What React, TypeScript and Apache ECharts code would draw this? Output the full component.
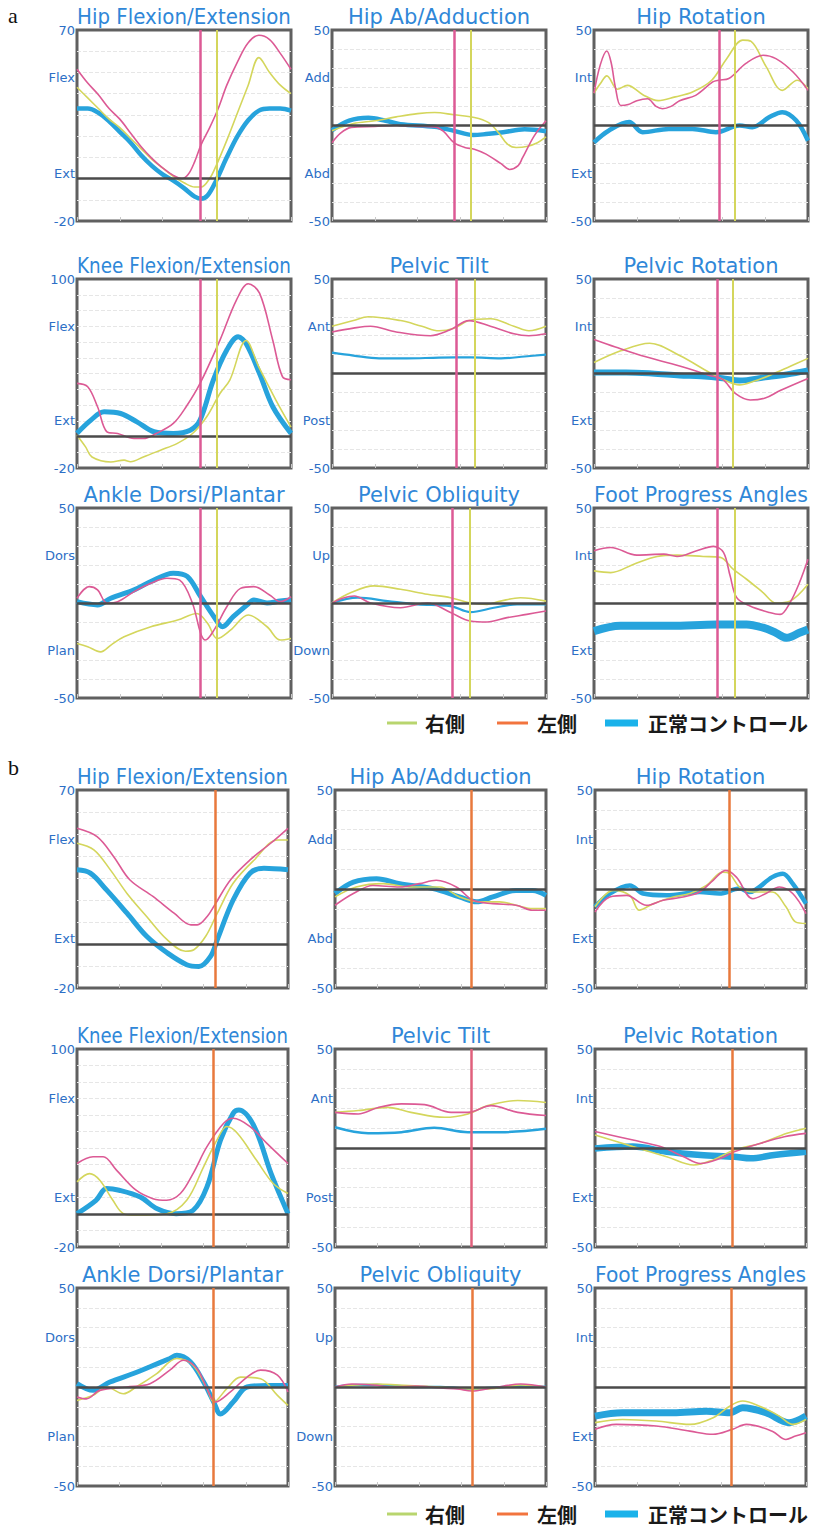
import React, { useEffect, useRef } from "react";
import * as echarts from "echarts";

type Pts = [number, number][];

// ================= Section a =================
// Hip Flexion/Extension
const a1Right: Pts = [[0,43],[5,38],[10,33],[15,28],[20,24],[25,19],[30,14],[35,9],[40,5],[45,1],[50,-2],[55,-4],[58,-4],[62,0],[65,6],[70,18],[75,31],[80,44],[85,57],[90,50],[95,44],[100,40]];
const a1Left: Pts = [[0,51.5],[5,45],[10,39.5],[15,33],[20,28],[25,21.5],[30,15],[35,9.5],[40,5],[45,1.5],[49,0],[52,2],[55,8],[58,16],[62,24],[66,33],[70,44],[75,55],[80,64],[85,67.5],[90,65.5],[95,59],[100,51.5]];
const a1Ctrl: Pts = [[0,33],[5,33],[10,31],[15,27],[20,22],[25,17],[30,11],[35,6],[40,2],[45,-1],[50,-4.5],[55,-8.5],[58,-9.5],[61,-8],[65,-1],[70,10],[75,20],[80,27.5],[85,32],[90,33],[95,33],[100,32]];
const a1Marks = [57.8, 65.4];
// Hip Ab/Adduction
const a2Right: Pts = [[0,-2.8],[10,1],[20,2.5],[30,4.5],[40,6.2],[48,6.8],[57,5.6],[66.5,4.2],[73,1.6],[78,-4],[82,-9.8],[86,-11.5],[91,-11],[96,-9],[100,-6]];
const a2Left: Pts = [[0,-9],[4,-4],[9,-1],[20,-0.5],[30,0],[40,-0.5],[48,-0.7],[52,-3],[57,-9],[62,-11.5],[66.5,-12.4],[72,-15],[79,-20],[83,-23],[87,-21],[89,-17],[94.5,-5.4],[100,2.5]];
const a2Ctrl: Pts = [[0,-2.5],[8,2.5],[17,4],[25,2.5],[32,0.7],[48,-0.7],[57,-2.8],[66,-5],[72,-4.5],[80,-3.5],[90,-2],[100,-3]];
const a2Marks = [56.9, 65];
// Hip Rotation
const a3Right: Pts = [[0,17],[3,22],[6,26],[11,19],[15.6,21],[23,16],[30,13],[38,15],[46,17.5],[55,23.7],[62,35],[69.5,44.7],[73.4,44],[80.5,30.7],[88,18.4],[95,23.7],[100,19.3]];
const a3Left: Pts = [[0,17],[3,32],[6,39],[8,33],[10,20],[12.5,10.5],[16,11],[20,13],[25,14],[29,10],[32,8.8],[36,10],[40,13],[47.5,15.8],[55.5,22.8],[58.3,23.7],[63,24.6],[71,32.5],[79,36.8],[85,35],[93,28],[100,18.4]];
const a3Ctrl: Pts = [[0,-8.8],[7,-2.6],[16.4,1.8],[22.7,-3.5],[35,-1.8],[46,-1.8],[57,-3.5],[68,0],[74,-0.9],[82,4.4],[88,7],[94.5,2.6],[100,-8]];
const a3Marks = [58.3, 66];
// Knee Flexion/Extension
const a4Right: Pts = [[0,0.8],[4,-6.6],[7,-13],[15.8,-16.2],[22,-15],[25,-16],[31,-13],[39,-8.7],[46.7,-4.5],[54,1.9],[60.6,12.5],[66.8,27.3],[71.4,35.8],[79,61],[85,44],[93,23],[100,6]];
const a4Left: Pts = [[0,33.7],[5,31.6],[9.6,18.9],[14,3],[19,1.9],[26.6,-1.3],[31,-1.3],[37,1.9],[45,8.3],[51,18.9],[57.5,33.7],[66.8,61.2],[74.5,86.6],[80,97],[85.3,91],[91.5,61],[96,38],[100,36]];
const a4Ctrl: Pts = [[0,2],[6.5,10.4],[12.7,15.7],[20.4,14.6],[28,9.3],[36,3],[45,1.9],[52.9,4],[57.5,10.4],[63.7,35.8],[70,54.9],[75.3,63.3],[79,59],[85.3,40],[91.5,18.9],[100,2]];
const a4Marks = [57.5, 65.2];
// Pelvic Tilt
const a5Right: Pts = [[0,25],[10,28],[17,30],[32,28],[42,25],[50,22.6],[57,24],[64,28],[74,29],[85,25],[92,22.6],[100,25]];
const a5Left: Pts = [[0,22],[10,24],[18,25],[30,22],[46,20],[55,23],[64,28],[74,25],[85,21],[92,20],[100,21]];
const a5Ctrl: Pts = [[0,11],[10,9.5],[22,8],[35,8],[50,8.4],[65,8.5],[79,8],[90,9],[100,10]];
const a5Marks = [58, 66.5];
// Pelvic Rotation
const a6Right: Pts = [[0,5.8],[12.5,12],[26,16],[40,9.5],[54,0.5],[60,-3],[68,-6],[75,-4],[82,-1],[92,4],[100,8]];
const a6Left: Pts = [[0,18],[10,14],[22,9.5],[40,4],[54,-1],[60,-3],[66,-10.5],[73,-14],[80,-13],[87,-9],[100,-2.6]];
const a6Ctrl: Pts = [[0,0.5],[15,0.5],[27,0],[40,-1],[50,-1.5],[60,-2.5],[68,-3.7],[80,-2],[90,-0.5],[100,1.6]];
const a6Marks = [57.7, 65];
// Ankle Dorsi/Plantar
const a7Right: Pts = [[0,-21.3],[5,-23],[11,-25.7],[16,-22],[22,-17.8],[34.5,-12.5],[47,-9],[56,-5.5],[61,-10.7],[65.5,-18.7],[71.7,-14.3],[80,-6.3],[88.8,-12.5],[95,-19.5],[100,-18.7]];
const a7Left: Pts = [[0,2.5],[5.7,8.6],[9.6,6.9],[14,0],[19,0.7],[26.7,6],[34.5,10.4],[42,13],[48,12],[53.9,0],[57.8,-16],[60,-19.5],[64,-14.3],[70,-2],[76.4,7.7],[82.6,8.6],[90,4.2],[95,0.7],[100,3.3]];
const a7Ctrl: Pts = [[0,0.7],[9.6,-1],[15.8,2.5],[26.7,6.9],[34.5,11.3],[45,15.7],[51.5,14],[57.8,3.3],[64,-7.2],[68,-12.5],[73,-7.2],[79.5,-1],[82.6,1.6],[88.8,0],[95,1],[100,1.6]];
const a7Marks = [57.8, 65.5];
// Pelvic Obliquity
const a8Right: Pts = [[0,0],[8.9,5.5],[19.7,9],[32,7.2],[44.6,4.6],[55.4,2.8],[64.7,0],[72.5,-0.7],[78.7,1],[88,2.8],[100,1]];
const a8Left: Pts = [[0,0],[5,2.5],[10.4,3.7],[18,0],[32,-2.5],[44.6,0],[55.4,-5],[64.7,-9.5],[72.5,-10],[81.8,-7.7],[91,-6],[100,-4.2]];
const a8Ctrl: Pts = [[0,0],[12,2.8],[26,1],[40,-0.7],[55.4,-1.6],[64.7,-4.8],[75.6,-2.5],[86.5,-0.7],[100,-0.7]];
const a8Marks = [56.2, 64.4];
// Foot Progress Angles
const a9Right: Pts = [[0,16.9],[7.8,16],[18.6,20.4],[29.5,24.5],[38.8,25.2],[51,24.5],[59,24],[65,17.8],[71.3,12.5],[79,5.5],[85,0],[91.5,1],[100,9.9]];
const a9Left: Pts = [[0,27.5],[7.8,29.2],[20,25.2],[32.6,25.7],[38.8,24.5],[48,27.5],[55.8,29.8],[60.5,26.6],[63.6,14.3],[66.7,2.8],[72.9,-1.6],[82,-5],[87,-6],[91.5,0],[96,10.7],[100,23]];
const a9Ctrl: Pts = [[0,-14.8],[12.4,-12],[35.7,-12],[57.4,-11.3],[71.3,-11.3],[79,-13],[85,-15.7],[90,-18.3],[96,-15.7],[100,-14]];
const a9Marks = [57.4, 65.9];

// ================= Section b =================
const b1Right: Pts = [[0,45.8],[8,42.8],[15.8,33.7],[23.7,23],[33,12.5],[42.7,2],[51.4,-3.3],[55.4,-2.6],[61,3.5],[66.5,14],[74,27.6],[84,38.2],[95,47.3],[100,47.3]];
const b1Left: Pts = [[0,52.6],[9.5,48.8],[17.4,39.7],[25,29.2],[36,21.6],[46,14],[54,8.7],[57,8.7],[61.7,12.5],[65.3,17.8],[72.8,29.2],[82,38.2],[91.8,45.8],[100,52.6]];
const b1Ctrl: Pts = [[0,33.7],[6.3,32.2],[14,24.6],[23.7,14],[33,3.5],[42.7,-4],[52,-9.4],[57.8,-10.2],[63.3,-5.6],[66.5,2],[74,20],[82,32.2],[88.6,34.4],[100,33.7]];
const b1Marks = [65.3];
const b2Right: Pts = [[0,-4],[10,1],[22.8,2.7],[35.4,1],[49.6,1],[59,-4],[68.5,-6.5],[78,-6.5],[85.8,-8.2],[93.7,-9.9],[100,-9.9]];
const b2Left: Pts = [[0,-8.2],[8.7,-2.3],[18,1.8],[30.7,1],[40,2.7],[48,4.4],[57.5,1],[65.4,-5.7],[74.8,-7.4],[85.8,-8.2],[93.7,-10.7],[100,-10.7]];
const b2Ctrl: Pts = [[0,-2.3],[8.7,3.5],[19.7,5.2],[30.7,2.7],[46.5,0.2],[59,-4],[67,-6.5],[74.8,-4],[85.8,-0.7],[93.7,-0.7],[100,-3.2]];
const b2Marks = [64.6];
const b3Right: Pts = [[0,-9],[8.7,-0.7],[16.5,-3.2],[21,-10.7],[27.6,-7.4],[37,-4],[45,-2.3],[52.8,1.8],[60.6,8.5],[63.8,7.7],[68.5,1],[74.8,-1.5],[84,-1.5],[90.5,-9],[95,-16.6],[100,-17.4]];
const b3Left: Pts = [[0,-11.6],[7,-4],[15,-3.2],[24.4,-8.2],[32.3,-5.7],[41.7,-4],[49.6,-1.5],[56,4.4],[62,9.4],[67,6],[74.8,-4.9],[81,-2.3],[87.4,1],[93.7,-2.3],[100,-12.4]];
const b3Ctrl: Pts = [[0,-9],[7,-2.3],[16.5,1.8],[22.8,-2.3],[33.9,-3.2],[49.6,-1.5],[59,-2.3],[68.5,0.2],[73,-1.5],[84,6],[89,7.7],[93.7,2.7],[100,-7.4]];
const b3Marks = [63.8];
const b4Right: Pts = [[0,19.5],[6,24.5],[10.8,20.5],[17,8.3],[22,0.2],[28,-0.8],[42.5,0.2],[52,8.3],[60,28.6],[66.3,44.8],[71,53],[76,48.9],[85,32.7],[93,18.5],[100,12.4]];
const b4Left: Pts = [[0,30.6],[7.6,34.7],[12.4,34.7],[18.7,26.6],[28,14.4],[36,9.3],[42.5,8.3],[49,12.4],[55,24.5],[61.6,40.8],[69.5,55],[74,58],[82,53],[90,42.8],[100,30.6]];
const b4Ctrl: Pts = [[0,0.2],[9,8.3],[14,15.4],[20,14.4],[30,10.3],[38,3.2],[47,0.2],[55,2.2],[61.6,16.4],[68,44.8],[74,61],[76.7,63],[84,53],[92,24.5],[100,0.2]];
const b4Marks = [64.8];
const b5Right: Pts = [[0,18],[11,18.9],[25,20.5],[36,18],[52,15.5],[63,17.2],[72.4,21.4],[86.6,24],[100,23]];
const b5Left: Pts = [[0,18],[11,17.2],[20.5,20.5],[31.5,22.3],[42.5,21.9],[55,18],[63,18],[74,21.4],[86.6,18],[100,16.4]];
const b5Ctrl: Pts = [[0,10.5],[15.7,7.5],[31.5,8],[47,10.2],[63,8],[78.7,8],[100,9.7]];
const b5Marks = [64.6];
const b6Right: Pts = [[0,6.6],[18,0.7],[34,-4.4],[46.8,-8.6],[56,-6],[66,-1],[78.6,2.4],[91,7.4],[100,10]];
const b6Left: Pts = [[0,8.3],[18,4],[31,0.7],[42,-4.4],[50,-7.8],[59.5,-5.2],[66,-1.9],[78.6,2.4],[89.7,5.7],[100,7.4]];
const b6Ctrl: Pts = [[0,-0.2],[18,0.7],[34,-1.9],[50,-3.5],[66,-4.4],[73.8,-5.2],[85,-3.5],[100,-1.9]];
const b6Marks = [65];
const b7Right: Pts = [[0,-6.8],[7.6,-4.2],[14,0],[22,-3.4],[28,0],[37.8,6.8],[47.3,14.4],[55,11],[61.6,-0.8],[64.8,-7.6],[71,-0.8],[77.5,5],[87,4.2],[95,-4.2],[100,-9.3]];
const b7Left: Pts = [[0,-5],[4.4,-6],[10.8,-1.7],[23.5,0],[34.6,1.7],[44,8.5],[50.5,13.5],[56.8,9.3],[61.6,-0.8],[65.6,-7.6],[72.7,-2.5],[80.6,5],[87,8.5],[95,6],[100,-2.5]];
const b7Ctrl: Pts = [[0,1.7],[7.6,-1.7],[15.6,2.5],[26.7,6.8],[34.6,10.2],[44,14.4],[47.3,16],[53.7,12.7],[60,2.5],[64.8,-7.6],[68,-13.6],[74,-7.6],[80.6,0],[90,0.8],[100,0.8]];
const b7Marks = [64.8];
const b8Right: Pts = [[0,0],[10,1],[20,1.5],[30,1],[40,0.5],[50,0],[58,-0.5],[65,-1],[72,-1],[80,0],[88,1],[100,0]];
const b8Left: Pts = [[0,0],[8,1.5],[18,1],[28,0],[38,0.5],[50,-0.5],[58,-1],[65,-2],[72,-1],[80,0.5],[88,1.5],[100,0]];
const b8Ctrl: Pts = [[0,0],[10,1],[20,1],[30,0.5],[40,0],[50,0],[58,-0.5],[65,-1],[72,-0.5],[80,0],[88,0.5],[100,0]];
const b8Marks = [65];
const b9Right: Pts = [[0,-18],[13,-16.4],[29,-17.2],[45,-18.9],[56,-15.5],[63.8,-9.7],[70,-7.1],[78,-9.7],[87.4,-14.7],[93.7,-18.9],[100,-16.4]];
const b9Left: Pts = [[0,-21.4],[10,-18.9],[29,-19.7],[45,-22.3],[56,-23.9],[65,-21.4],[71.7,-18.9],[84,-22.3],[90.5,-26.5],[95,-24.8],[100,-23.1]];
const b9Ctrl: Pts = [[0,-14.7],[13,-13],[37,-13],[52.8,-12.2],[63.8,-13],[70,-10.5],[81,-13],[92,-18],[100,-14.7]];
const b9Marks = [64.6];

// panel titles and axis words
const titles = ["Hip Flexion/Extension", "Hip Ab/Adduction", "Hip Rotation", "Knee Flexion/Extension", "Pelvic Tilt", "Pelvic Rotation", "Ankle Dorsi/Plantar", "Pelvic Obliquity", "Foot Progress Angles"];
const axisMin = [-20, -50, -50, -20, -50, -50, -50, -50, -50];
const axisMax = [70, 50, 50, 100, 50, 50, 50, 50, 50];
const upperWords = ["Flex", "Add", "Int", "Flex", "Ant", "Int", "Dors", "Up", "Int"];
const lowerWords = ["Ext", "Abd", "Ext", "Ext", "Post", "Ext", "Plan", "Down", "Ext"];
const legendNames = ["右側", "左側", "正常コントロール"];

const dataA = [
  [a1Right, a1Left, a1Ctrl, a1Marks], [a2Right, a2Left, a2Ctrl, a2Marks], [a3Right, a3Left, a3Ctrl, a3Marks],
  [a4Right, a4Left, a4Ctrl, a4Marks], [a5Right, a5Left, a5Ctrl, a5Marks], [a6Right, a6Left, a6Ctrl, a6Marks],
  [a7Right, a7Left, a7Ctrl, a7Marks], [a8Right, a8Left, a8Ctrl, a8Marks], [a9Right, a9Left, a9Ctrl, a9Marks],
] as [Pts, Pts, Pts, number[]][];
const dataB = [
  [b1Right, b1Left, b1Ctrl, b1Marks], [b2Right, b2Left, b2Ctrl, b2Marks], [b3Right, b3Left, b3Ctrl, b3Marks],
  [b4Right, b4Left, b4Ctrl, b4Marks], [b5Right, b5Left, b5Ctrl, b5Marks], [b6Right, b6Left, b6Ctrl, b6Marks],
  [b7Right, b7Left, b7Ctrl, b7Marks], [b8Right, b8Left, b8Ctrl, b8Marks], [b9Right, b9Left, b9Ctrl, b9Marks],
] as [Pts, Pts, Pts, number[]][];

// layout & style
const colsA = [[77, 291], [332, 546], [594, 808]];
const rowsA = [[30, 221], [279, 468], [508, 698]];
const colsB = [[77, 288], [335, 546], [595, 806]];
const rowsB = [[790, 988], [1049, 1247], [1288, 1486]];
const ctrlWidthsA = [4.5, 4.5, 4.5, 5, 2.2, 6, 5, 2.2, 8];
const ctrlWidthsB = [5, 5, 4.5, 5, 2.5, 6.5, 5, 2.5, 7];
const markColorsB = ["#e8793c", "#e8793c", "#e8793c", "#e8793c", "#e0607c", "#e8793c", "#e8793c", "#e8793c", "#e8793c"];

const RIGHT_COLOR = "#d4d65c";
const LEFT_COLOR = "#dc5a95";
const CTRL_COLOR = "#27a3dc";
const TITLE_COLOR = "#2f87d8";
const LABEL_COLOR = "#2d6fc6";
const TITLE_FONT = '21px "DejaVu Sans"';

function textWidth(text: string, font: string): number {
  const ctx = document.createElement("canvas").getContext("2d");
  if (!ctx) return text.length * 11;
  ctx.font = font;
  return ctx.measureText(text).width;
}

function buildOption() {
  const grid: any[] = [];
  const xAxis: any[] = [];
  const yAxis: any[] = [];
  const series: any[] = [];
  const graphic: any[] = [];

  const sections = [
    { data: dataA, cols: colsA, rows: rowsA, widths: ctrlWidthsA, markColors: (_i: number) => [LEFT_COLOR, RIGHT_COLOR], markWidths: [2.5, 2] },
    { data: dataB, cols: colsB, rows: rowsB, widths: ctrlWidthsB, markColors: (i: number) => [markColorsB[i]], markWidths: [2.5] },
  ];

  let k = 0;
  sections.forEach((sec) => {
    sec.data.forEach((d, i) => {
      const r = Math.floor(i / 3);
      const c = i % 3;
      const [l, rr] = sec.cols[c];
      const [t, b] = sec.rows[r];
      const [right, left, ctrl, marks] = d;
      const mc = sec.markColors(i);
      grid.push({
        left: l, top: t, width: rr - l, height: b - t,
        show: true, borderColor: "#606060", borderWidth: 3, backgroundColor: "#fff",
      });
      xAxis.push({
        type: "value", gridIndex: k, min: 0, max: 100, interval: 20,
        axisLine: { show: false, onZero: false },
        axisTick: { show: true, inside: true, length: 4, lineStyle: { color: "#c8c8c8" } },
        axisLabel: { show: false }, splitLine: { show: false },
      });
      yAxis.push({
        type: "value", gridIndex: k, min: axisMin[i], max: axisMax[i], interval: 10,
        axisLine: { show: false }, axisTick: { show: false }, axisLabel: { show: false },
        splitLine: { show: true, showMinLine: false, showMaxLine: false, lineStyle: { color: "#e6e6e6", type: "dashed", width: 1 } },
      });
      const labels = [String(axisMin[i]), lowerWords[i], "", upperWords[i], String(axisMax[i])];
      yAxis.push({
        type: "value", gridIndex: k, min: 0, max: 4, interval: 1, position: "left",
        axisLine: { show: false }, axisTick: { show: false }, splitLine: { show: false },
        axisLabel: {
          show: true, margin: 2, color: LABEL_COLOR, fontSize: 13, fontFamily: "DejaVu Sans",
          formatter: (v: number) => labels[Math.round(v)] ?? "",
        },
      });
      const base = { type: "line", xAxisIndex: k, yAxisIndex: 2 * k, showSymbol: false, smooth: 0.35, silent: true };
      series.push({
        ...base, name: legendNames[2], data: ctrl, z: 2,
        lineStyle: { color: CTRL_COLOR, width: sec.widths[i] },
        markLine: {
          symbol: ["none", "none"], silent: true, label: { show: false },
          data: [{ yAxis: 0, lineStyle: { color: "#4a4a4a", width: 2.5, type: "solid" } }],
        },
      });
      series.push({ ...base, name: legendNames[0], data: right, z: 3, lineStyle: { color: RIGHT_COLOR, width: 1.6 } });
      series.push({
        ...base, name: legendNames[1], data: left, z: 4, lineStyle: { color: LEFT_COLOR, width: 1.6 },
        markLine: {
          symbol: ["none", "none"], silent: true, label: { show: false },
          data: marks.map((m, j) => ({ xAxis: m, lineStyle: { color: mc[j], width: sec.markWidths[j], type: "solid" } })),
        },
      });
      // title
      const w = rr - l;
      const tw = textWidth(titles[i], TITLE_FONT);
      const s = tw > w ? w / tw : 1;
      graphic.push({
        type: "text", x: (l + rr) / 2, y: t - 13, scaleX: s, z: 100, silent: true,
        style: { text: titles[i], font: TITLE_FONT, fill: TITLE_COLOR, textAlign: "center", textVerticalAlign: "middle" },
      });
      k++;
    });
  });

  // section labels
  graphic.push({ type: "text", x: 8, y: 15, style: { text: "a", font: '22px "Liberation Serif"', fill: "#111", textVerticalAlign: "middle" } });
  graphic.push({ type: "text", x: 8, y: 767, style: { text: "b", font: '22px "Liberation Serif"', fill: "#111", textVerticalAlign: "middle" } });

  // legends
  [723, 1514].forEach((ly) => {
    const items = [
      { x1: 387, x2: 417, color: "#b8d56e", lw: 3, tx: 425, text: legendNames[0] },
      { x1: 497, x2: 528, color: "#f2743e", lw: 3, tx: 537, text: legendNames[1] },
      { x1: 605, x2: 638, color: "#1ab2ea", lw: 7, tx: 648, text: legendNames[2] },
    ];
    items.forEach((it) => {
      graphic.push({ type: "line", silent: true, shape: { x1: it.x1, y1: ly, x2: it.x2, y2: ly }, style: { stroke: it.color, lineWidth: it.lw } });
      graphic.push({
        type: "text", x: it.tx, y: ly, silent: true,
        style: { text: it.text, font: 'bold 20px "Noto Sans CJK JP"', fill: "#1a1a1a", textVerticalAlign: "middle" },
      });
    });
  });

  return { animation: false, backgroundColor: "#fff", grid, xAxis, yAxis, series, graphic };
}

export default function App() {
  const ref = useRef<HTMLDivElement>(null);
  useEffect(() => {
    if (!ref.current) return;
    const chart = echarts.init(ref.current, undefined, { renderer: "svg" });
    chart.setOption(buildOption() as any);
    return () => chart.dispose();
  }, []);
  return (
    <div
      ref={ref}
      style={{ position: "absolute", left: 0, top: 0, width: 813, height: 1528, background: "#fff" }}
    />
  );
}
